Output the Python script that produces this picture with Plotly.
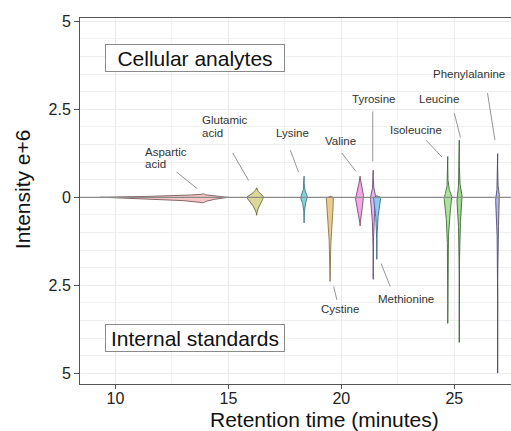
import plotly.graph_objects as go

# ---------------- data ----------------
amino_acids = ["Aspartic acid", "Glutamic acid", "Lysine", "Cystine", "Valine",
               "Tyrosine", "Methionine", "Isoleucine", "Leucine", "Phenylalanine"]
retention_time = [13.9, 16.25, 18.35, 19.5, 20.83, 21.41, 21.57, 24.71, 25.22, 26.92]
analyte_intensity = [0.10, 0.27, 0.60, 0.03, 0.60, 0.77, 0.05, 1.16, 1.62, 1.24]    # e+6, cellular analytes
standard_intensity = [0.17, 0.51, 0.73, 2.39, 0.81, 2.33, 1.76, 3.58, 4.12, 4.99]   # e+6, internal standards
peak_left_width = [4.6, 0.45, 0.17, 0.17, 0.22, 0.13, 0.15, 0.17, 0.12, 0.10]
peak_right_width = [1.1, 0.33, 0.17, 0.17, 0.17, 0.13, 0.18, 0.20, 0.15, 0.10]
x_tick_values = [10, 15, 20, 25]
y_tick_values = [-5, -2.5, 0, 2.5, 5]
y_tick_labels = ["5", "2.5", "0", "2.5", "5"]

# ---------------- style ----------------
sharpness = [2.0, 1.6, 3.5, 2.0, 1.3, 3.5, 3.0, 5.0, 5.5, 5.5]
fill_colors = ["#F5C6C6", "#DCD898", "#86D4D8", "#EDCB8E", "#F4A8E8",
               "#E6B6F0", "#8CC8F2", "#ABE29C", "#9FDB8F", "#BBBBF0"]
line_colors = ["#6b4a4a", "#5a5a30", "#2f6f72", "#7a6440", "#6a3a60",
               "#5a3a66", "#2f5a7a", "#2f5f2a", "#2a5522", "#3d3d5e"]

# label placement (data coords): (text lines, x, y), anchor, leader (x0, y0, x1, y1)
label_layout = {
    "Aspartic acid": ([("Aspartic", 11.20, 1.28), ("acid", 11.20, 0.94)], "left", (12.70, 0.72, 13.63, 0.24)),
    "Glutamic acid": ([("Glutamic", 13.73, 2.19), ("acid", 13.73, 1.82)], "left", (15.19, 1.26, 15.89, 0.48)),
    "Lysine": ([("Lysine", 17.83, 1.83)], "center", (17.74, 1.34, 18.10, 0.72)),
    "Cystine": ([("Cystine", 19.96, -3.17)], "center", (19.66, -2.53, 19.80, -2.91)),
    "Valine": ([("Valine", 19.98, 1.59)], "center", (20.02, 1.26, 20.63, 0.75)),
    "Tyrosine": ([("Tyrosine", 21.44, 2.78)], "center", (21.39, 2.44, 21.39, 1.02)),
    "Methionine": ([("Methionine", 22.85, -2.89)], "center", (21.76, -1.88, 22.16, -2.53)),
    "Isoleucine": ([("Isoleucine", 23.31, 1.92)], "center", (23.75, 1.62, 24.46, 1.14)),
    "Leucine": ([("Leucine", 24.34, 2.79)], "center", (25.00, 2.39, 25.27, 1.70)),
    "Phenylalanine": ([("Phenylalanine", 25.67, 3.49)], "center", (26.47, 2.96, 26.80, 1.62)),
}

FONT = "Liberation Sans, Arial, sans-serif"


def outline(cx, top, bot, wl, wr, p, n=120):
    xs, ys = [], []
    for i in range(n + 1):
        t = 1 - i / n
        xs.append(cx - wl * (1 - t) ** p)
        ys.append(top * t)
    for i in range(1, n + 1):
        t = i / n
        xs.append(cx - wl * (1 - t) ** p)
        ys.append(-bot * t)
    for i in range(n - 1, -1, -1):
        t = i / n
        xs.append(cx + wr * (1 - t) ** p)
        ys.append(-bot * t)
    for i in range(1, n + 1):
        t = i / n
        xs.append(cx + wr * (1 - t) ** p)
        ys.append(top * t)
    return xs, ys


fig = go.Figure()

for k, name in enumerate(amino_acids):
    xs, ys = outline(retention_time[k], analyte_intensity[k], standard_intensity[k],
                     peak_left_width[k], peak_right_width[k], sharpness[k])
    fig.add_trace(go.Scatter(
        x=xs, y=ys, mode="lines", fill="toself",
        fillcolor=fill_colors[k],
        line=dict(color=line_colors[k], width=0.8),
        name=name, showlegend=False, hoverinfo="skip"))

annotations = []
shapes = []
for name in amino_acids:
    lines_, anchor, (x0, y0, x1, y1) = label_layout[name]
    for txt, lx, ly in lines_:
        annotations.append(dict(x=lx, y=ly, xref="x", yref="y", text=txt,
                                showarrow=False, xanchor=anchor, yanchor="middle",
                                font=dict(family=FONT, size=11.5, color="#333333")))
    shapes.append(dict(type="line", x0=x0, y0=y0, x1=x1, y1=y1, xref="x", yref="y",
                       line=dict(color="#666666", width=0.7), layer="above"))

shapes.append(dict(type="line", xref="paper", x0=0, x1=1, yref="y", y0=0, y1=0,
                   line=dict(color="#8c8c8c", width=1.2), layer="above"))

for txt, bx, by in [("Cellular analytes", 13.53, 3.95), ("Internal standards", 13.54, -4.0)]:
    annotations.append(dict(x=bx, y=by, xref="x", yref="y", text=txt, showarrow=False,
                            xanchor="center", yanchor="middle", width=178, height=26,
                            borderpad=0, bordercolor="#8a8a8a", borderwidth=1,
                            bgcolor="white",
                            font=dict(family=FONT, size=21, color="#111111")))

annotations.append(dict(x=0.5684, y=-0.097, xref="paper", yref="paper",
                        text="Retention time (minutes)", showarrow=False,
                        xanchor="center", yanchor="middle",
                        font=dict(family=FONT, size=21, color="#111111")))
annotations.append(dict(x=-0.1316, y=0.533, xref="paper", yref="paper",
                        text="Intensity e+6", showarrow=False, textangle=-90,
                        xanchor="center", yanchor="middle",
                        font=dict(family=FONT, size=21, color="#111111")))

fig.update_layout(
    width=511, height=431,
    margin=dict(l=80, r=0, t=18, b=47),
    paper_bgcolor="white", plot_bgcolor="white",
    showlegend=False,
    annotations=annotations, shapes=shapes,
    xaxis=dict(range=[8.43, 27.51], tickvals=x_tick_values,
               ticktext=[str(v) for v in x_tick_values],
               showgrid=True, gridcolor="#EBEBEB", gridwidth=1,
               minor=dict(dtick=2.5, tick0=0, showgrid=True, gridcolor="#F3F3F3", gridwidth=1),
               zeroline=False, showline=True, linecolor="#555555", linewidth=1, mirror=True,
               ticks="outside", ticklen=4, tickcolor="#555555",
               ticklabelstandoff=-4,
               tickfont=dict(family=FONT, size=16, color="#222222")),
    yaxis=dict(range=[-5.30, 5.09], tickvals=y_tick_values, ticktext=y_tick_labels,
               showgrid=True, gridcolor="#EBEBEB", gridwidth=1,
               minor=dict(dtick=0.5, tick0=0, showgrid=True, gridcolor="#F0F0F0", gridwidth=1),
               zeroline=False, showline=True, linecolor="#555555", linewidth=1,
               ticks="outside", ticklen=5, tickcolor="#555555",
               tickfont=dict(family=FONT, size=16, color="#222222")),
)

fig.write_html("out.html")
